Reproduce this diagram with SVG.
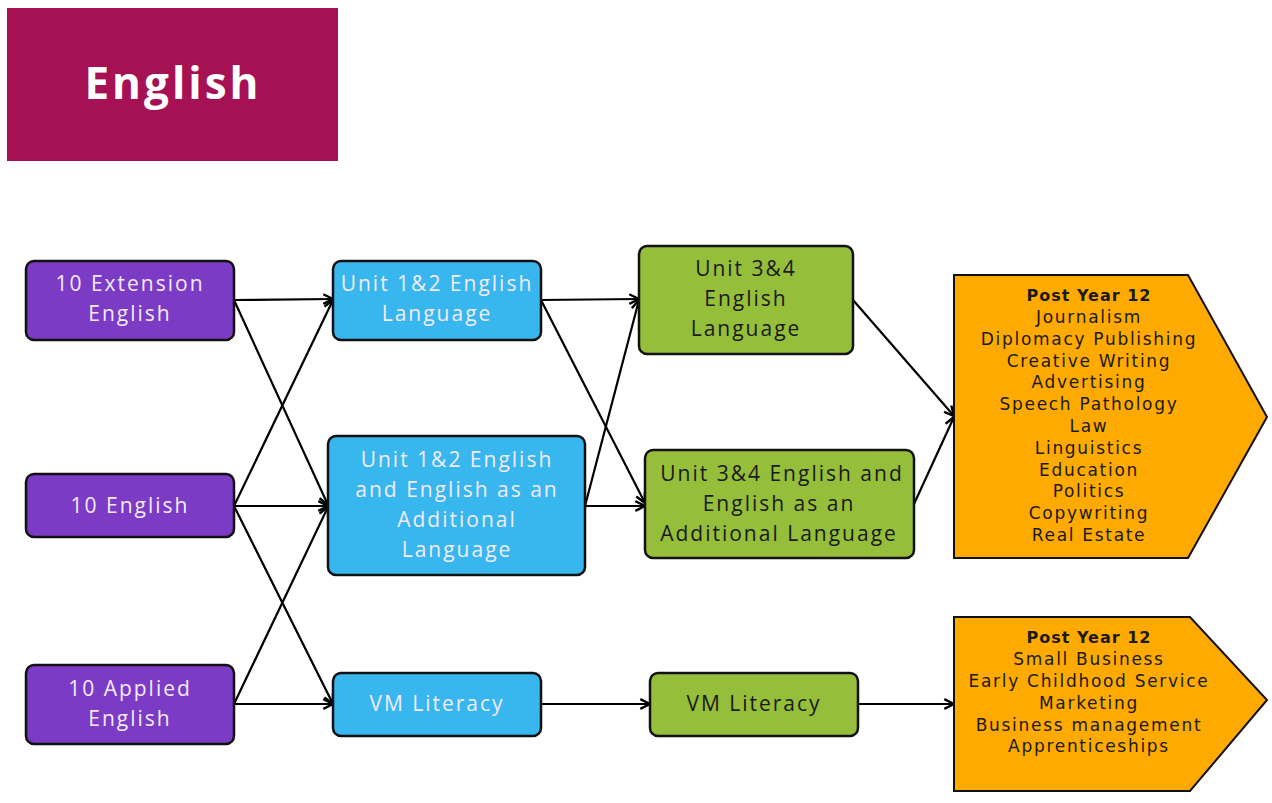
<svg xmlns="http://www.w3.org/2000/svg" width="1272" height="803" viewBox="0 0 1272 803">
  <style>
    .box { stroke: #111; stroke-width: 2.5; }
    .purple { fill: #7b3bc4; }
    .blue { fill: #38b6ee; }
    .green { fill: #95be3a; }
    .orange { fill: #ffaa00; stroke: #111; stroke-width: 2; }
    .lt { font-family: "Open Sans", "Liberation Sans", sans-serif; font-size: 21px; letter-spacing: 2px; text-anchor: middle; dominant-baseline: central; }
    .light { fill: #f3ebff; }
    .dark { fill: #1a1a1a; }
    .ot { font-family: "DejaVu Sans", "Liberation Sans", sans-serif; font-size: 17px; letter-spacing: 1.7px; fill: #1a1a1a; text-anchor: middle; dominant-baseline: central; }
    .ob { font-weight: bold; font-size: 16px; letter-spacing: 1px; }
    .conn { stroke: #000; stroke-width: 2.2; fill: none; marker-end: url(#arr); }
  </style>
  <defs>
    <marker id="arr" viewBox="0 0 10 10" refX="9" refY="5" markerWidth="5.5" markerHeight="5.5" orient="auto" markerUnits="strokeWidth">
      <path d="M1,1 L9,5 L1,9" fill="none" stroke="#000" stroke-width="2"/>
    </marker>
  </defs>
  <rect width="1272" height="803" fill="#ffffff"/>

  <!-- title -->
  <g id="title">
    <rect x="7" y="8" width="331" height="153" fill="#a51153"/>
    <text x="173" y="82" font-family="Open Sans, Liberation Sans, sans-serif" font-size="44" font-weight="bold" letter-spacing="3" fill="#ffffff" text-anchor="middle" dominant-baseline="central">English</text>
  </g>

  <!-- connectors -->
  <g id="connectors">
    <line class="conn" x1="234" y1="300" x2="333" y2="299"/>
    <line class="conn" x1="234" y1="300" x2="328" y2="505"/>
    <line class="conn" x1="234" y1="506" x2="333" y2="300"/>
    <line class="conn" x1="234" y1="506" x2="328" y2="506"/>
    <line class="conn" x1="234" y1="506" x2="333" y2="704"/>
    <line class="conn" x1="234" y1="704" x2="328" y2="507"/>
    <line class="conn" x1="234" y1="704" x2="333" y2="704"/>
    <line class="conn" x1="541" y1="300" x2="639" y2="299"/>
    <line class="conn" x1="541" y1="300" x2="645" y2="503"/>
    <line class="conn" x1="585" y1="506" x2="639" y2="300"/>
    <line class="conn" x1="585" y1="506" x2="645" y2="506"/>
    <line class="conn" x1="853" y1="300" x2="954" y2="416"/>
    <line class="conn" x1="914" y1="504" x2="954" y2="417"/>
    <line class="conn" x1="541" y1="704" x2="650" y2="704"/>
    <line class="conn" x1="858" y1="704" x2="954" y2="704"/>
  </g>

  <!-- year 10 -->
  <g id="ext-english">
    <rect class="box purple" x="26" y="261" width="208" height="79" rx="8"/>
    <text class="lt light" x="130" y="283">10 Extension</text>
    <text class="lt light" x="130" y="313">English</text>
  </g>
  <g id="english-10">
    <rect class="box purple" x="26" y="474" width="208" height="63" rx="8"/>
    <text class="lt light" x="130" y="505">10 English</text>
  </g>
  <g id="applied-english">
    <rect class="box purple" x="26" y="665" width="208" height="79" rx="8"/>
    <text class="lt light" x="130" y="688">10 Applied</text>
    <text class="lt light" x="130" y="718">English</text>
  </g>

  <!-- units 1 and 2 -->
  <g id="u12-language">
    <rect class="box blue" x="333" y="261" width="208" height="79" rx="8"/>
    <text class="lt light" x="437" y="283">Unit 1&amp;2 English</text>
    <text class="lt light" x="437" y="313">Language</text>
  </g>
  <g id="u12-eal">
    <rect class="box blue" x="328" y="436" width="257" height="139" rx="8"/>
    <text class="lt light" x="457" y="459">Unit 1&amp;2 English</text>
    <text class="lt light" x="457" y="489">and English as an</text>
    <text class="lt light" x="457" y="519">Additional</text>
    <text class="lt light" x="457" y="549">Language</text>
  </g>
  <g id="vm-literacy-12">
    <rect class="box blue" x="333" y="673" width="208" height="63" rx="8"/>
    <text class="lt light" x="437" y="703">VM Literacy</text>
  </g>

  <!-- units 3 and 4 -->
  <g id="u34-language">
    <rect class="box green" x="639" y="246" width="214" height="108" rx="8"/>
    <text class="lt dark" x="746" y="268">Unit 3&amp;4</text>
    <text class="lt dark" x="746" y="298">English</text>
    <text class="lt dark" x="746" y="328">Language</text>
  </g>
  <g id="u34-eal">
    <rect class="box green" x="645" y="450" width="269" height="108" rx="8"/>
    <text class="lt dark" x="782" y="473">Unit 3&amp;4 English and</text>
    <text class="lt dark" x="779" y="503">English as an</text>
    <text class="lt dark" x="779" y="533">Additional Language</text>
  </g>
  <g id="vm-literacy-34">
    <rect class="box green" x="650" y="673" width="208" height="63" rx="8"/>
    <text class="lt dark" x="754" y="703">VM Literacy</text>
  </g>

  <!-- post year 12 -->
  <g id="post-12-a">
    <polygon class="orange" points="954,275 1188,275 1267,417 1188,558 954,558"/>
    <text class="ot ob" x="1089" y="295">Post Year 12</text>
    <text class="ot" x="1089" y="317">Journalism</text>
    <text class="ot" x="1089" y="339">Diplomacy Publishing</text>
    <text class="ot" x="1089" y="361">Creative Writing</text>
    <text class="ot" x="1089" y="382">Advertising</text>
    <text class="ot" x="1089" y="404">Speech Pathology</text>
    <text class="ot" x="1089" y="426">Law</text>
    <text class="ot" x="1089" y="448">Linguistics</text>
    <text class="ot" x="1089" y="470">Education</text>
    <text class="ot" x="1089" y="491">Politics</text>
    <text class="ot" x="1089" y="513">Copywriting</text>
    <text class="ot" x="1089" y="535">Real Estate</text>
  </g>
  <g id="post-12-b">
    <polygon class="orange" points="954,617 1190,617 1267,700 1190,791 954,791"/>
    <text class="ot ob" x="1089" y="637">Post Year 12</text>
    <text class="ot" x="1089" y="659">Small Business</text>
    <text class="ot" x="1089" y="681">Early Childhood Service</text>
    <text class="ot" x="1089" y="703">Marketing</text>
    <text class="ot" x="1089" y="725">Business management</text>
    <text class="ot" x="1089" y="746">Apprenticeships</text>
  </g>
</svg>
